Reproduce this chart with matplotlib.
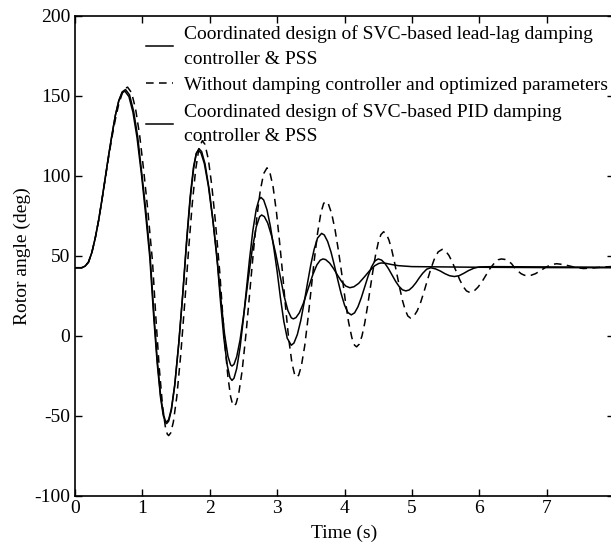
import numpy as np
import matplotlib
matplotlib.use("Agg")
import matplotlib.pyplot as plt

plt.rcParams['font.family'] = ['Liberation Serif', 'DejaVu Serif']
plt.rcParams['font.size'] = 14
plt.rcParams['axes.unicode_minus'] = False

# PID damping controller & PSS (solid)
t_pid = [0, 0.10, 0.15, 0.20, 0.25, 0.30, 0.35, 0.40, 0.45, 0.50, 0.55, 0.60, 0.65, 0.70, 0.74,
         0.80, 0.86, 0.92, 0.99, 1.05, 1.11, 1.17, 1.22, 1.27, 1.31, 1.34, 1.36,
         1.39, 1.43, 1.48, 1.54, 1.60, 1.66, 1.71, 1.76, 1.80, 1.83,
         1.87, 1.92, 1.98, 2.04, 2.10, 2.16, 2.22, 2.27, 2.31, 2.33,
         2.36, 2.40, 2.45, 2.51, 2.57, 2.63, 2.69, 2.74, 2.77,
         2.81, 2.86, 2.92, 2.98, 3.04, 3.10, 3.16, 3.21, 3.24,
         3.28, 3.33, 3.39, 3.46, 3.53, 3.59, 3.64, 3.68,
         3.72, 3.78, 3.84, 3.90, 3.96, 4.02, 4.08,
         4.14, 4.21, 4.29, 4.37, 4.45, 4.51, 4.55,
         4.62, 4.70, 4.80, 5.0, 5.5, 6.0, 7.0, 8.0]
v_pid = [42.5, 42.5, 43.5, 46, 52, 61, 72, 85, 99, 113, 126, 138, 147, 152, 153,
         149.6, 139.8, 124.1, 99.6, 75.2, 49, 10.7, -17.3, -38.8, -49.9, -54.2, -55,
         -53.5, -46.7, -31.3, -4.8, 26.7, 61.7, 87.3, 105.8, 114.1, 116,
         114.3, 107.6, 93.5, 74.3, 52.3, 24.9, 0.8, -12.9, -18.3, -19,
         -17.9, -13.2, -2.7, 14.9, 35, 53.8, 68, 74.4, 75.5,
         74.5, 70.5, 62.1, 51.1, 38.4, 25.4, 15.7, 11.2, 10.5,
         11.3, 14.3, 20.3, 29.3, 38.2, 44.3, 47.2, 48,
         47.6, 45.4, 41.8, 37.6, 33.7, 31, 30,
         30.6, 32.7, 36.5, 40.5, 43.8, 45.2, 45.5,
         45.2, 44.5, 43.8, 43.2, 43, 42.8, 42.6, 42.5]

# lead-lag damping controller & PSS (long dashes)
t_ll = [0, 0.10, 0.15, 0.20, 0.25, 0.30, 0.35, 0.40, 0.45, 0.50, 0.55, 0.60, 0.65, 0.70, 0.75,
        0.81, 0.87, 0.93, 0.99, 1.05, 1.115, 1.17, 1.22, 1.27, 1.31, 1.34, 1.36,
        1.39, 1.43, 1.48, 1.54, 1.60, 1.66, 1.71, 1.76, 1.80, 1.84,
        1.88, 1.93, 1.99, 2.05, 2.115, 2.16, 2.21, 2.26, 2.30, 2.33,
        2.36, 2.40, 2.45, 2.50, 2.545, 2.59, 2.64, 2.69, 2.73, 2.76,
        2.80, 2.85, 2.90, 2.95, 3.00, 3.05, 3.10, 3.15, 3.21,
        3.25, 3.30, 3.35, 3.40, 3.45, 3.50, 3.55, 3.60, 3.66,
        3.70, 3.75, 3.80, 3.85, 3.90, 3.95, 4.00, 4.05, 4.10,
        4.15, 4.20, 4.25, 4.30, 4.35, 4.40, 4.45, 4.50,
        4.55, 4.60, 4.65, 4.705, 4.76, 4.81, 4.86, 4.91,
        4.96, 5.01, 5.06, 5.11, 5.16, 5.22, 5.28,
        5.35, 5.42, 5.49, 5.56, 5.63, 5.70, 5.77, 5.84, 5.92, 6.0, 6.2, 7.0, 8.0]
v_ll = [42.5, 42.5, 43.5, 46, 52, 61, 72, 85, 99, 113, 126, 138, 147, 152.5, 154,
        150.6, 140.4, 124.6, 102, 78.8, 50, 14.1, -14.8, -37.3, -48.7, -53.2, -54,
        -52.5, -45.8, -30.8, -4.9, 26.1, 60.1, 85.4, 104.5, 113.8, 117,
        115.1, 107.5, 91.9, 71.2, 44.5, 21.1, -1.8, -18.6, -26.3, -28,
        -26.6, -20.6, -7.4, 10.9, 29.3, 47.7, 65.8, 79.1, 85.1, 86.5,
        84.9, 78.7, 68.4, 55.1, 40.3, 23.4, 8.8, -1.6, -6,
        -4.6, 0.7, 9.3, 20.5, 32.7, 44.4, 54.1, 61.1, 64,
        63, 58.9, 52.3, 43.9, 34.9, 26.3, 19.2, 14.5, 13,
        14.3, 18.1, 23.8, 30.5, 37.2, 42.9, 46.7, 48,
        47.3, 45.2, 42.1, 38, 33.9, 30.8, 28.7, 28,
        28.6, 30.5, 33.1, 36.2, 39, 41.6, 42.5,
        41.8, 40.5, 38.8, 37.5, 37, 37.5, 39, 40.7, 42.2, 43, 43.2, 43, 42.8]

# without damping controller (dashed)
t_wo = [0, 0.10, 0.15, 0.20, 0.25, 0.30, 0.35, 0.40, 0.45, 0.50, 0.55, 0.60, 0.65, 0.70, 0.74, 0.78,
        0.84, 0.90, 0.96, 1.02, 1.08, 1.15, 1.20, 1.25, 1.30, 1.34, 1.37, 1.39,
        1.42, 1.46, 1.51, 1.57, 1.63, 1.69, 1.74, 1.79, 1.84, 1.89,
        1.93, 1.98, 2.03, 2.08, 2.15, 2.19, 2.23, 2.27, 2.31, 2.34, 2.36,
        2.39, 2.43, 2.48, 2.54, 2.60, 2.65, 2.70, 2.75, 2.80, 2.85,
        2.89, 2.94, 2.99, 3.04, 3.08, 3.12, 3.17, 3.22, 3.26, 3.29,
        3.32, 3.36, 3.41, 3.46, 3.505, 3.55, 3.60, 3.65, 3.69, 3.72,
        3.76, 3.81, 3.86, 3.91, 3.96, 4.01, 4.06, 4.11, 4.15, 4.18,
        4.22, 4.26, 4.30, 4.34, 4.38, 4.42, 4.46, 4.50, 4.54, 4.58,
        4.62, 4.66, 4.70, 4.74, 4.78, 4.82, 4.86, 4.90, 4.94, 4.98,
        5.03, 5.08, 5.13, 5.18, 5.23, 5.28, 5.33, 5.39, 5.45,
        5.50, 5.55, 5.60, 5.655, 5.71, 5.76, 5.81, 5.86,
        5.92, 5.98, 6.04, 6.10, 6.16, 6.22, 6.28, 6.33,
        6.38, 6.43, 6.48, 6.52, 6.57, 6.62, 6.67, 6.71,
        6.77, 6.83, 6.88, 6.93, 6.98, 7.04, 7.10, 7.15,
        7.25, 7.35, 7.45, 7.55, 7.70, 7.85, 8.0]
v_wo = [42.5, 42.5, 43.5, 46, 52, 61, 72, 85, 98.5, 112, 124.5, 135.5, 145, 151.5, 154.5, 155.5,
        152, 141.7, 125.2, 103.2, 78.7, 46.5, 11.5, -19.9, -44.1, -56.8, -61.6, -62.5,
        -60.9, -54, -38.5, -11.6, 21.2, 56, 82.3, 103.6, 117.4, 122,
        119.6, 110.1, 94, 73.1, 39, 14.5, -7.7, -25.9, -38.2, -43.1, -44,
        -42.6, -36.3, -22.2, 2, 30.5, 53.5, 74.3, 90.8, 101.4, 105,
        102.6, 93.1, 77.3, 57.1, 39.5, 20.2, -1.3, -17.2, -24.4, -26,
        -24.7, -18.9, -6.2, 11.4, 29, 46.8, 64.1, 76.9, 82.7, 84,
        82.5, 76.3, 66.2, 53.2, 38.5, 22.6, 8.6, -1.4, -6, -7,
        -5.2, -0.1, 7.8, 17.9, 29, 40.1, 50.2, 58.1, 63.2, 65,
        63.7, 59.8, 53.9, 46.3, 38, 29.7, 22.1, 16.2, 12.3, 11,
        12.2, 15.6, 20.8, 27.5, 34.7, 41.6, 47.6, 52.4, 54,
        53, 50.2, 46, 40.5, 35, 30.8, 28, 27,
        27.8, 30.3, 33.7, 37.8, 42, 45.2, 47.5, 48,
        47.7, 46.8, 45, 42.75, 40.6, 38.8, 37.8, 37.5,
        37.8, 38.7, 39.9, 41.25, 42.6, 43.9, 44.7, 45,
        44.5, 43.5, 42.5, 42, 42.4, 43, 43.3]

labels = ["Coordinated design of SVC-based lead-lag damping\ncontroller & PSS",
          "Without damping controller and optimized parameters",
          "Coordinated design of SVC-based PID damping\ncontroller & PSS"]

fig = plt.figure(figsize=(6.11, 5.45), dpi=100)
ax = fig.add_axes([75 / 611, 49.5 / 545, 539 / 611, 479.5 / 545])

ax.plot(t_ll, v_ll, color='black', lw=1.1, dashes=(14, 2.5), label=labels[0])
ax.plot(t_wo, v_wo, color='black', lw=1.1, dashes=(5, 3.5), label=labels[1])
ax.plot(t_pid, v_pid, color='black', lw=1.1, label=labels[2])

ax.set_xlim(0, 8)
ax.set_ylim(-100, 200)
ax.set_xticks(range(8))
ax.set_yticks([-100, -50, 0, 50, 100, 150, 200])
ax.tick_params(direction='in', top=True, right=True, length=5, width=1)
for s in ax.spines.values():
    s.set_linewidth(1.2)
ax.set_xlabel("Time (s)", labelpad=5)
ax.set_ylabel("Rotor angle (deg)", labelpad=2)

h, l = ax.get_legend_handles_labels()
h[0].set_dashes((None, None))
leg = ax.legend(h, l, loc='upper left', frameon=False, borderpad=0, borderaxespad=0,
                handlelength=1.4, handletextpad=0.55, labelspacing=0.45)
leg.set_bbox_to_anchor((146 / 611, 1 - 25 / 545), transform=fig.transFigure)
for t in leg.get_texts():
    t.set_linespacing(1.6)

fig.savefig("out.png", dpi=100)
